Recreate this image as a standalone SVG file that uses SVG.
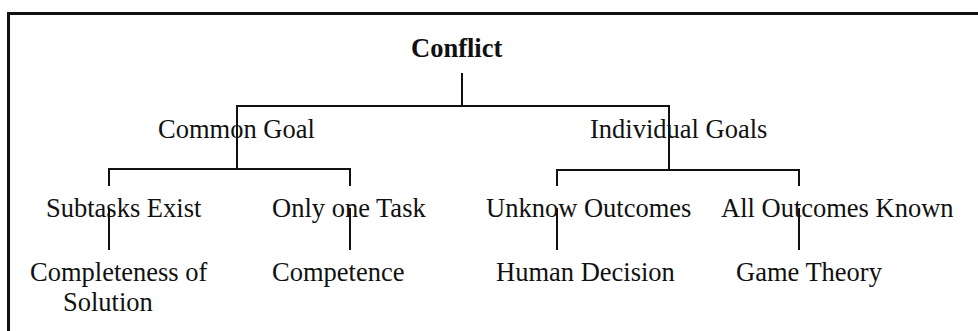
<svg xmlns="http://www.w3.org/2000/svg" width="978" height="331" viewBox="0 0 978 331">
<style>
text{font-family:"Liberation Serif","Times New Roman",serif;font-size:26.5px;fill:#111}
.b{font-weight:bold}
.c line{stroke:#111;stroke-width:2}
.f{stroke:#111;stroke-width:3;fill:none}
</style>
<rect width="978" height="331" fill="#fff"/>
<path class="f" d="M8.5 331V13.5H978"/>
<g id="conflict"><text class="b" x="411" y="57">Conflict</text></g>
<g id="common-goal"><text x="158" y="138">Common Goal</text></g>
<g id="individual-goals"><text x="590" y="138">Individual Goals</text></g>
<g id="subtasks-exist"><text x="46" y="217">Subtasks Exist</text></g>
<g id="only-one-task"><text x="272" y="217">Only one Task</text></g>
<g id="unknow-outcomes"><text x="486" y="217">Unknow Outcomes</text></g>
<g id="all-outcomes-known"><text x="721" y="217">All Outcomes Known</text></g>
<g id="completeness"><text x="30" y="281">Completeness of</text><text x="63" y="311">Solution</text></g>
<g id="competence"><text x="272" y="281">Competence</text></g>
<g id="human-decision"><text x="496" y="281">Human Decision</text></g>
<g id="game-theory"><text x="736" y="281">Game Theory</text></g>
<g id="connectors" class="c">
<line x1="462" y1="73" x2="462" y2="106"/>
<line x1="236" y1="106" x2="670" y2="106"/>
<line x1="237" y1="106" x2="237" y2="169"/>
<line x1="669" y1="106" x2="669" y2="170"/>
<line x1="108" y1="169" x2="351" y2="169"/>
<line x1="109" y1="169" x2="109" y2="186"/>
<line x1="350" y1="169" x2="350" y2="186"/>
<line x1="556" y1="170" x2="800" y2="170"/>
<line x1="557" y1="170" x2="557" y2="186"/>
<line x1="799" y1="170" x2="799" y2="186"/>
<line x1="109" y1="208" x2="109" y2="250"/>
<line x1="350" y1="208" x2="350" y2="250"/>
<line x1="557" y1="208" x2="557" y2="250"/>
<line x1="799" y1="208" x2="799" y2="250"/>
</g>
</svg>
